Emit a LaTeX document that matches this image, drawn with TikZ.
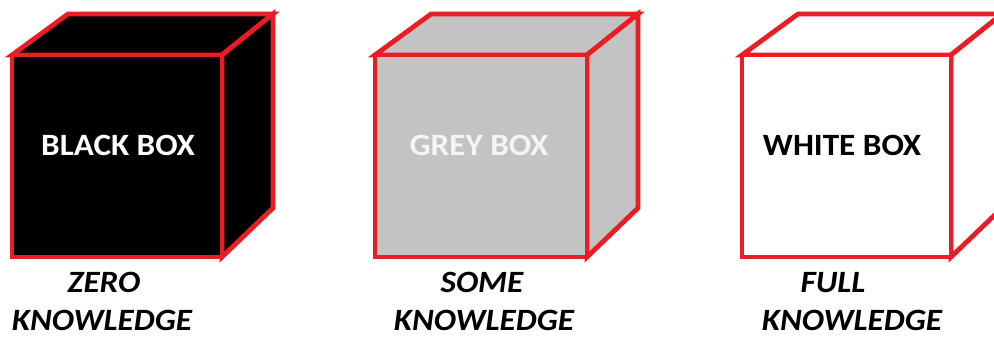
\documentclass[tikz,border=0pt]{standalone}
\usepackage{fontspec}
\setmainfont{Carlito}
\definecolor{paintred}{HTML}{ED1C24}
\definecolor{boxgrey}{HTML}{C3C3C3}
\definecolor{greytext}{HTML}{F4F4F4}
\newcommand\drawcube[3]{%
  % #1 = left x of front face, #2 = right x of front face, #3 = fill colour
  \filldraw[cubeedge,fill=#3] (#1+56,14) -- (#2+51,14) -- (#2,55) -- (#1,55) -- cycle;
  \filldraw[cubeedge,fill=#3] (#2,55) -- (#2+51,14) -- (#2+51,208) -- (#2,257) -- cycle;
  \filldraw[cubeedge,fill=#3] (#1,55) rectangle (#2,257);
}
\begin{document}
\begin{tikzpicture}[x=1pt,y=-1pt,
  cubeedge/.style={draw=paintred,line width=4.8pt,line join=miter},
  boxlabel/.style={font=\fontsize{31}{36}\selectfont\bfseries,inner sep=0pt,anchor=base,xscale=1.07},
  knowlabel/.style={font=\fontsize{31}{36}\selectfont\bfseries\itshape,inner sep=0pt,anchor=base,text=black,xscale=1.07}]
\useasboundingbox (0,0) rectangle (994,337);
\begin{scope}
\clip (0,0) rectangle (994,337);
\drawcube{12}{222}{black}
\drawcube{375}{587}{boxgrey}
\drawcube{742}{951}{white}
\end{scope}
\node[boxlabel,text=white] (black) at (118,155) {BLACK BOX};
\node[boxlabel,text=greytext] (grey) at (479,155) {GREY BOX};
\node[boxlabel,text=black] (white) at (842,155) {WHITE BOX};
\node[knowlabel] (zero) at (104,292) {ZERO};
\node[knowlabel] (zeroK) at (102,330) {KNOWLEDGE};
\node[knowlabel] (some) at (482,292) {SOME};
\node[knowlabel] (someK) at (484,330) {KNOWLEDGE};
\node[knowlabel] (full) at (833,292) {FULL};
\node[knowlabel] (fullK) at (852,330) {KNOWLEDGE};
\end{tikzpicture}
\end{document}
